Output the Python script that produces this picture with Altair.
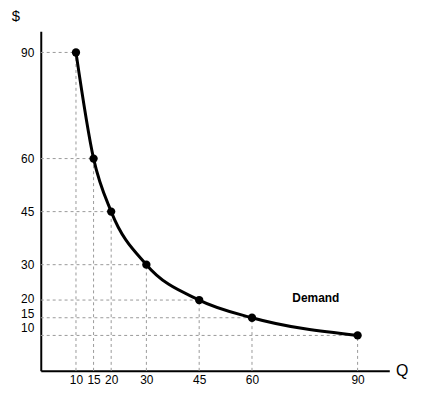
import altair as alt
import pandas as pd

quantity = [10, 15, 20, 30, 45, 60, 90]
price = [90, 60, 45, 30, 20, 15, 10]

df = pd.DataFrame({"Q": quantity, "P": price})

xs = alt.Scale(domain=[0, 99], nice=False, zero=False)
ys = alt.Scale(domain=[0, 96], nice=False, zero=False)

FONT = "Liberation Sans"

xaxis = alt.Axis(values=quantity, title=None, ticks=False, grid=False,
                 domainColor="black", domainWidth=2, labelPadding=4,
                 labelFont=FONT, labelFontSize=12, labelColor="black")
yaxis = alt.Axis(values=price, title=None, ticks=False, grid=False,
                 domainColor="black", domainWidth=2, labelPadding=7,
                 labelFont=FONT, labelFontSize=12, labelColor="black",
                 labelOffset=alt.ExprRef("datum.value == 10 ? -8 : datum.value == 15 ? -4 : datum.value == 20 ? -2 : 0"))

base = alt.Chart(df).transform_calculate(z="0")

vlines = base.mark_rule(color="#999999", strokeDash=[3, 3], strokeWidth=1).encode(
    x=alt.X("Q:Q", scale=xs, axis=xaxis),
    y=alt.Y("z:Q", scale=ys, axis=yaxis),
    y2="P:Q",
)

hlines = base.mark_rule(color="#999999", strokeDash=[3, 3], strokeWidth=1).encode(
    y=alt.Y("P:Q", scale=ys, axis=yaxis),
    x=alt.X("z:Q", scale=xs, axis=xaxis),
    x2="Q:Q",
)

curve = base.mark_line(color="black", strokeWidth=3, interpolate="monotone").encode(
    x=alt.X("Q:Q", scale=xs, axis=xaxis), y=alt.Y("P:Q", scale=ys, axis=yaxis)
)

pts = base.mark_circle(color="black", size=70, opacity=1).encode(
    x=alt.X("Q:Q", scale=xs, axis=xaxis), y=alt.Y("P:Q", scale=ys, axis=yaxis)
)

dollar = alt.Chart(pd.DataFrame({"t": ["$"]})).mark_text(
    font=FONT, fontSize=15, color="black"
).encode(text="t:N", x=alt.value(-25), y=alt.value(-15))

qlab = alt.Chart(pd.DataFrame({"t": ["Q"]})).mark_text(
    font=FONT, fontSize=16, color="black"
).encode(text="t:N", x=alt.value(364), y=alt.value(342))

demand = alt.Chart(pd.DataFrame({"t": ["Demand"]})).mark_text(
    font=FONT, fontSize=12, fontWeight="bold", color="black"
).encode(text="t:N", x=alt.value(277), y=alt.value(269))

chart = alt.layer(vlines, hlines, curve, pts, dollar, qlab, demand).properties(
    width=351, height=342,
    background="white",
    autosize=alt.AutoSizeParams(type="none"),
    padding={"left": 33, "top": 22, "right": 40, "bottom": 25},
).configure_view(stroke=None)

chart.save("out.html", embed_options={"renderer": "svg", "actions": False})
